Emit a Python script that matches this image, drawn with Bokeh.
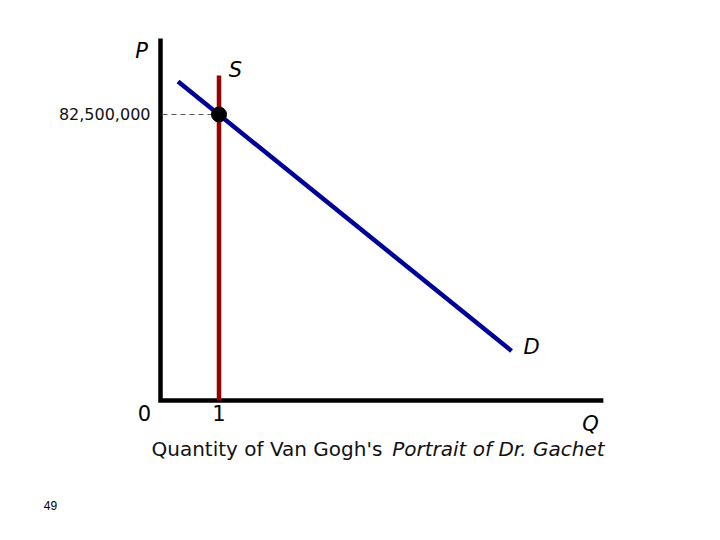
from bokeh.plotting import figure
from bokeh.models import Range1d
from bokeh.core.properties import value
from bokeh.embed import file_html
from bokeh.resources import INLINE

# ---- data ----
axis_q = [0.0, 0.0, 7.57]            # L-shaped axes (Q)
axis_p = [104.4e6, 0.0, 0.0]         # L-shaped axes (P)
supply_q = [1.0, 1.0]
supply_p = [0.0, 93.75e6]
demand_q = [0.30, 6.00]
demand_p = [92.0e6, 14.3e6]
eq_q = 1.0
eq_p = 82_500_000
price_label = "82,500,000"
page_number = "49"

# label texts with their data anchor positions
axis_letters = ["P", "Q"]
axis_letters_q = [-0.325, 7.35]
axis_letters_p = [100.7e6, -6.9e6]
curve_letters = ["S", "D"]
curve_letters_q = [1.282, 6.342]
curve_letters_p = [95.2e6, 15.3e6]
tick_labels = ["0", "1"]
tick_q = [-0.274, 1.0]
tick_p = [-3.75e6, -3.75e6]
xlabel_plain = "Quantity of Van Gogh's"
xlabel_italic = "Portrait of Dr. Gachet"

W, H = 704, 524
p = figure(width=W, height=H, output_backend="svg", toolbar_location=None,
           x_axis_location=None, y_axis_location=None,
           min_border=0, min_border_left=0, min_border_right=0,
           min_border_top=0, min_border_bottom=0,
           x_range=Range1d(-2.735, 9.299), y_range=Range1d(-35.77e6, 115.38e6))
p.outline_line_color = None
p.grid.visible = False
p.background_fill_color = "white"
p.border_fill_color = "white"

# axes
p.line(axis_q, axis_p, line_color="black", line_width=4.5, line_join="miter")

# dashed guide to price
p.line([0.034, eq_q], [eq_p, eq_p], line_color="#555555", line_width=1, line_dash="5 4")

# supply
p.line(supply_q, supply_p, line_color="#990000", line_width=4.5)
# demand
p.line(demand_q, demand_p, line_color="#000099", line_width=4.5)

# equilibrium point
p.scatter([eq_q], [eq_p], size=15, fill_color="black", line_color="black")

font = value("DejaVu Sans")

p.text(axis_letters_q, axis_letters_p, text=axis_letters, text_font=font,
       text_font_style="italic", text_font_size="21px", text_color="black",
       text_align="center", text_baseline="middle")
p.text(curve_letters_q, curve_letters_p, text=curve_letters, text_font=font,
       text_font_style="italic", text_font_size="21px", text_color="black",
       text_align="center", text_baseline="middle")
p.text(tick_q, tick_p, text=tick_labels, text_font=font,
       text_font_size="21px", text_color="black",
       text_align="center", text_baseline="middle")

p.text([-0.171], [eq_p], text=[price_label], text_font=font,
       text_font_size="16px", text_color="#111111",
       text_align="right", text_baseline="middle")

p.text([-0.154], [-14.13e6], text=[xlabel_plain], text_font=font,
       text_font_size="20px", text_color="#111111",
       text_align="left", text_baseline="middle")
p.text([7.59], [-14.13e6], text=[xlabel_italic], text_font=font,
       text_font_style="italic", text_font_size="20px", text_color="#111111",
       text_align="right", text_baseline="middle")

p.text([-1.88], [-30.3e6], text=[page_number], text_font=value("Liberation Sans"),
       text_font_size="12px", text_color="black",
       text_align="center", text_baseline="middle")

open("out.html", "w").write(file_html(p, INLINE))
